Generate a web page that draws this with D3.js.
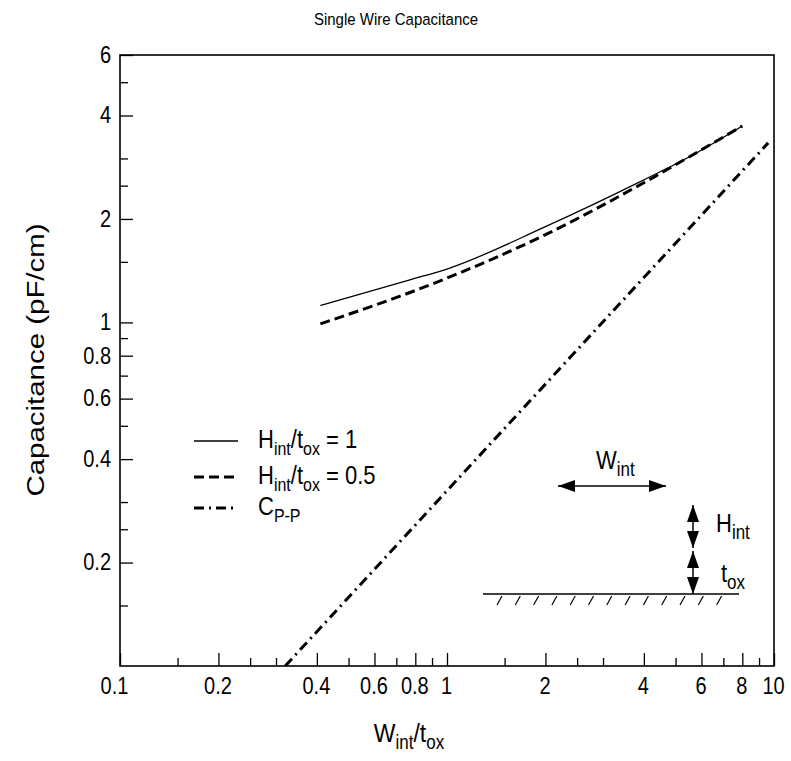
<!DOCTYPE html>
<html lang="en">
<head>
<meta charset="UTF-8">
<title>Single Wire Capacitance</title>
<style>
  body { margin: 0; background: #fff; font-family: "Liberation Sans", Arial, sans-serif; }
  svg text { font-family: "Liberation Sans", Arial, sans-serif; fill: #000; }
  .axis path { display: none; }
  .axis line { stroke: #000; stroke-width: 1.3; }
  .axis text { font-size: 20px; }
</style>
</head>
<body>
<div id="chart"></div>
<script src="https://cdn.jsdelivr.net/npm/d3@7"></script>
<script>
// values
const solidX = [0.41, 0.77, 1, 2, 4, 5.5, 8];
const solidY = [1.12, 1.33, 1.43, 1.9, 2.6, 3.03, 3.73];
const dashX = [0.41, 0.97, 2, 4, 5.5, 8];
const dashY = [0.99, 1.33, 1.8, 2.55, 3.03, 3.73];
const cppX = [0.32, 9.6];
const cppY = [0.1, 3.33];

const xMajor = [0.1, 0.2, 0.4, 0.6, 0.8, 1, 2, 4, 6, 8, 10];
const xMinor = [0.15, 0.25, 0.3, 0.5, 0.7, 0.9, 1.5, 2.5, 3, 5, 7, 9];
const yMajor = [0.2, 0.4, 0.6, 0.8, 1, 2, 4, 6];
const yMinor = [0.15, 0.25, 0.3, 0.5, 0.7, 0.9, 1.5, 2.5, 3, 5];

const W = 791, H = 761;
const pl = 120, pr = 774, pt = 55, pb = 666;
const stretch = 1.15; // text in the source is a bit taller than wide

const svg = d3.select('#chart').append('svg')
  .attr('width', W).attr('height', H);

const x = d3.scaleLog().domain([0.1, 10]).range([pl, pr]);
const y = d3.scaleLog().domain([0.1, 6]).range([pb, pt]);

// text placed at (tx, ty) baseline, stretched vertically
function label(parent, tx, ty, size, anchor) {
  return parent.append('text')
    .attr('transform', `translate(${tx},${ty}) scale(1,${stretch})`)
    .attr('text-anchor', anchor || 'start')
    .style('font-size', size + 'px');
}

// title
label(svg, 396, 25, 15, 'middle').text('Single Wire Capacitance');

// axes, ticks inward
const xa = svg.append('g').attr('class', 'axis')
  .attr('transform', `translate(0,${pb})`)
  .call(d3.axisBottom(x).tickValues(xMajor).tickSize(-13).tickPadding(10).tickFormat(d3.format('~g')));
xa.selectAll('text').attr('transform', `scale(1,${stretch})`).attr('y', 10)
  .attr('dx', d => d === 0.1 ? -6 : -1);
svg.append('g').attr('class', 'axis')
  .attr('transform', `translate(0,${pb})`)
  .call(d3.axisBottom(x).tickValues(xMinor).tickSize(-8).tickFormat(''));
const ya = svg.append('g').attr('class', 'axis')
  .attr('transform', `translate(${pl},0)`)
  .call(d3.axisLeft(y).tickValues(yMajor).tickSize(-13).tickPadding(9).tickFormat(d3.format('~g')));
ya.selectAll('text').attr('transform', `scale(1,${stretch})`);
svg.append('g').attr('class', 'axis')
  .attr('transform', `translate(${pl},0)`)
  .call(d3.axisLeft(y).tickValues(yMinor).tickSize(-8).tickFormat(''));

// frame
svg.append('rect')
  .attr('x', pl).attr('y', pt)
  .attr('width', pr - pl).attr('height', pb - pt)
  .attr('fill', 'none').attr('stroke', '#000').attr('stroke-width', 1.6);

// axis titles
const xt = label(svg, 409, 742, 23, 'middle');
xt.append('tspan').text('W');
xt.append('tspan').attr('dy', 6).style('font-size', '17px').text('int');
xt.append('tspan').attr('dy', -6).text('/t');
xt.append('tspan').attr('dy', 6).style('font-size', '17px').text('ox');

svg.append('text')
  .attr('transform', 'translate(44,360) scale(1,1.28) rotate(-90)')
  .attr('text-anchor', 'middle')
  .style('font-size', '23px')
  .text('Capacitance (pF/cm)');

// curves
const line = d3.line().x(d => x(d[0])).y(d => y(d[1])).curve(d3.curveMonotoneX);
const zip = (a, b) => a.map((v, i) => [v, b[i]]);

svg.append('clipPath').attr('id', 'clip')
  .append('rect').attr('x', pl).attr('y', pt)
  .attr('width', pr - pl).attr('height', pb - pt);

const plot = svg.append('g').attr('clip-path', 'url(#clip)');

const styles = [
  { w: 1.3, dash: null },
  { w: 3, dash: '10,5' },
  { w: 3, dash: '10,5,2,5' }
];

plot.append('path').datum(zip(solidX, solidY))
  .attr('d', line).attr('fill', 'none').attr('stroke', '#000')
  .attr('stroke-width', styles[0].w);
plot.append('path').datum(zip(dashX, dashY))
  .attr('d', line).attr('fill', 'none').attr('stroke', '#000')
  .attr('stroke-width', styles[1].w).attr('stroke-dasharray', styles[1].dash);
plot.append('path').datum(zip(cppX, cppY))
  .attr('d', line).attr('fill', 'none').attr('stroke', '#000')
  .attr('stroke-width', styles[2].w).attr('stroke-dasharray', styles[2].dash);

// legend
const legRows = [441, 477, 508];
legRows.forEach((ly, i) => {
  svg.append('line')
    .attr('x1', 194).attr('x2', 238).attr('y1', ly).attr('y2', ly)
    .attr('stroke', '#000').attr('stroke-width', styles[i].w)
    .attr('stroke-dasharray', styles[i].dash);
});
function hOverT(ly, val) {
  const t = label(svg, 258, ly + 7, 22);
  t.append('tspan').text('H');
  t.append('tspan').attr('dy', 6).style('font-size', '16px').text('int');
  t.append('tspan').attr('dy', -6).text('/t');
  t.append('tspan').attr('dy', 6).style('font-size', '16px').text('ox');
  t.append('tspan').attr('dy', -6).text(' = ' + val);
}
hOverT(legRows[0], '1');
hOverT(legRows[1], '0.5');
const ct = label(svg, 258, legRows[2] + 7, 22);
ct.append('tspan').text('C');
ct.append('tspan').attr('dy', 6).style('font-size', '16px').text('P-P');

// inset sketch of the wire geometry
const sk = svg.append('g');
function arrowHead(px, py, dir) {
  const L = 17, hw = 6;
  const bx = px - L * Math.cos(dir), by = py - L * Math.sin(dir);
  const nx = -Math.sin(dir) * hw, ny = Math.cos(dir) * hw;
  sk.append('path')
    .attr('d', `M${px},${py}L${bx + nx},${by + ny}L${bx - nx},${by - ny}Z`)
    .attr('fill', '#000');
}
function dblArrow(x1, y1, x2, y2) {
  sk.append('line').attr('x1', x1).attr('y1', y1).attr('x2', x2).attr('y2', y2)
    .attr('stroke', '#000').attr('stroke-width', 1.5);
  const a = Math.atan2(y2 - y1, x2 - x1);
  arrowHead(x2, y2, a);
  arrowHead(x1, y1, a + Math.PI);
}
dblArrow(558, 486, 666, 486);
dblArrow(693, 505, 693, 548);
dblArrow(693, 551, 693, 594);

sk.append('line').attr('x1', 483).attr('x2', 739).attr('y1', 594).attr('y2', 594)
  .attr('stroke', '#000').attr('stroke-width', 1.5);
d3.range(13).forEach(i => {
  const hx = 502 + i * 18.3;
  sk.append('line').attr('x1', hx).attr('y1', 596).attr('x2', hx - 5).attr('y2', 605)
    .attr('stroke', '#000').attr('stroke-width', 1.2);
});

function subLabel(tx, ty, main, sub) {
  const t = label(sk, tx, ty, 22);
  t.append('tspan').text(main);
  t.append('tspan').attr('dy', 6).style('font-size', '17px').text(sub);
}
subLabel(596, 469, 'W', 'int');
subLabel(716, 532, 'H', 'int');
subLabel(721, 582, 't', 'ox');
</script>
</body>
</html>
